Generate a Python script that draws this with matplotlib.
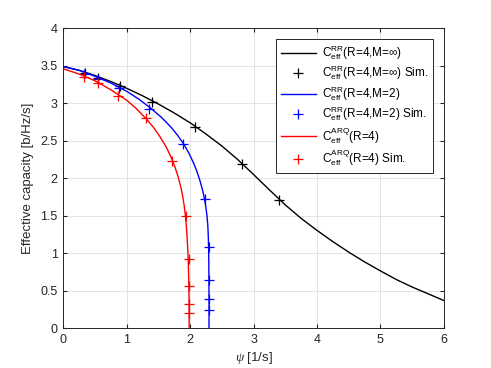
import numpy as np
import matplotlib
matplotlib.use("Agg")
import matplotlib.pyplot as plt

plt.rcParams['font.family'] = ['Liberation Sans', 'DejaVu Sans']
plt.rcParams['mathtext.fontset'] = 'custom'
plt.rcParams['mathtext.rm'] = 'Liberation Sans'
plt.rcParams['mathtext.it'] = 'Liberation Serif:italic'

# Curvas analiticas
x_rr_inf = [0, 0.25, 0.5, 0.75, 1.0, 1.25, 1.5, 1.75, 2.0, 2.25, 2.5, 2.75, 3.0,
            3.25, 3.5, 3.75, 4.0, 4.25, 4.5, 4.75, 5.0, 5.25, 5.5, 5.75, 6.0]
y_rr_inf = [3.49, 3.44, 3.37, 3.29, 3.20, 3.10, 2.99, 2.87, 2.74, 2.59, 2.43, 2.25, 2.05,
            1.845, 1.645, 1.465, 1.305, 1.155, 1.015, 0.885, 0.765, 0.65, 0.55, 0.46, 0.37]

x_rr_2 = [0, 0.25, 0.5, 0.75, 1.0, 1.2, 1.4, 1.55, 1.7, 1.8, 1.9, 1.98, 2.05, 2.1, 2.15,
          2.19, 2.22, 2.245, 2.265, 2.278, 2.286, 2.291, 2.294, 2.296, 2.297, 2.297]
y_rr_2 = [3.49, 3.44, 3.36, 3.27, 3.16, 3.05, 2.92, 2.81, 2.68, 2.575, 2.455, 2.335, 2.21,
          2.105, 1.98, 1.86, 1.75, 1.63, 1.50, 1.37, 1.22, 1.05, 0.85, 0.6, 0.3, 0.0]

x_arq = [0, 0.25, 0.5, 0.75, 1.0, 1.15, 1.3, 1.42, 1.52, 1.62, 1.7, 1.76, 1.81, 1.85,
         1.88, 1.905, 1.925, 1.94, 1.952, 1.962, 1.97, 1.976, 1.98, 1.983, 1.984]
y_arq = [3.46, 3.39, 3.30, 3.18, 3.04, 2.93, 2.80, 2.68, 2.56, 2.42, 2.28, 2.15, 2.02, 1.89,
         1.77, 1.64, 1.50, 1.36, 1.21, 1.05, 0.88, 0.7, 0.5, 0.25, 0.0]

# Simulaciones
xs_rr_inf = [0.346, 0.55, 0.89, 1.40, 2.08, 2.82, 3.40]
ys_rr_inf = [3.41, 3.34, 3.23, 3.02, 2.69, 2.19, 1.71]

xs_rr_2 = [0.33, 0.55, 0.88, 1.35, 1.89, 2.23, 2.29, 2.29, 2.29, 2.29]
ys_rr_2 = [3.39, 3.32, 3.21, 2.93, 2.46, 1.72, 1.08, 0.64, 0.39, 0.24]

xs_arq = [0.33, 0.54, 0.86, 1.30, 1.72, 1.93, 1.98, 1.98, 1.98, 1.98]
ys_arq = [3.35, 3.27, 3.10, 2.80, 2.23, 1.50, 0.93, 0.56, 0.33, 0.21]

rr = r'$\mathrm{C}_{\mathrm{eff}}^{\mathrm{RR}}$'
arq = r'$\mathrm{C}_{\mathrm{eff}}^{\mathrm{ARQ}}$'

fig = plt.figure(figsize=(4.91, 3.68), dpi=100)
ax = fig.add_axes([0.129, 0.108, 0.775, 0.815])

ax.plot(x_rr_inf, y_rr_inf, 'k-', lw=1.0, label=rr + r'(R=4,M=$\infty$)')
ax.plot(xs_rr_inf, ys_rr_inf, 'k+', ms=7, mew=0.9, label=rr + r'(R=4,M=$\infty$) Sim.')
ax.plot(x_rr_2, y_rr_2, 'b-', lw=1.0, label=rr + '(R=4,M=2)')
ax.plot(xs_rr_2, ys_rr_2, 'b+', ms=7, mew=0.9, label=rr + '(R=4,M=2) Sim.')
ax.plot(x_arq, y_arq, 'r-', lw=1.0, label=arq + '(R=4)')
ax.plot(xs_arq, ys_arq, 'r+', ms=7, mew=0.9, label=arq + '(R=4) Sim.')

ax.set_xlim(0, 6)
ax.set_ylim(0, 4)
ax.set_xticks(np.arange(0, 7, 1))
ax.set_yticks(np.arange(0, 4.5, 0.5))
ax.set_yticklabels(['0', '0.5', '1', '1.5', '2', '2.5', '3', '3.5', '4'])
ax.grid(True, color='#e3e3e3', lw=0.7)
ax.set_axisbelow(True)
ax.tick_params(direction='in', top=True, right=True, labelsize=9, colors='#262626',
               length=3, pad=4)
for s in ax.spines.values():
    s.set_color('#262626')
    s.set_linewidth(0.7)

ax.set_xlabel(r'$\psi$ [1/s]', fontsize=9.5, color='#262626', labelpad=3)
ax.set_ylabel('Effective capacity [b/Hz/s]', fontsize=9.5, color='#262626', labelpad=5)

leg = ax.legend(loc='upper right', fontsize=8.5, handlelength=3.0, borderaxespad=0.9,
                fancybox=False, framealpha=1, edgecolor='#262626', labelspacing=0.2,
                handletextpad=0.5)
leg.get_frame().set_linewidth(0.7)

plt.savefig('out.png', dpi=100)
